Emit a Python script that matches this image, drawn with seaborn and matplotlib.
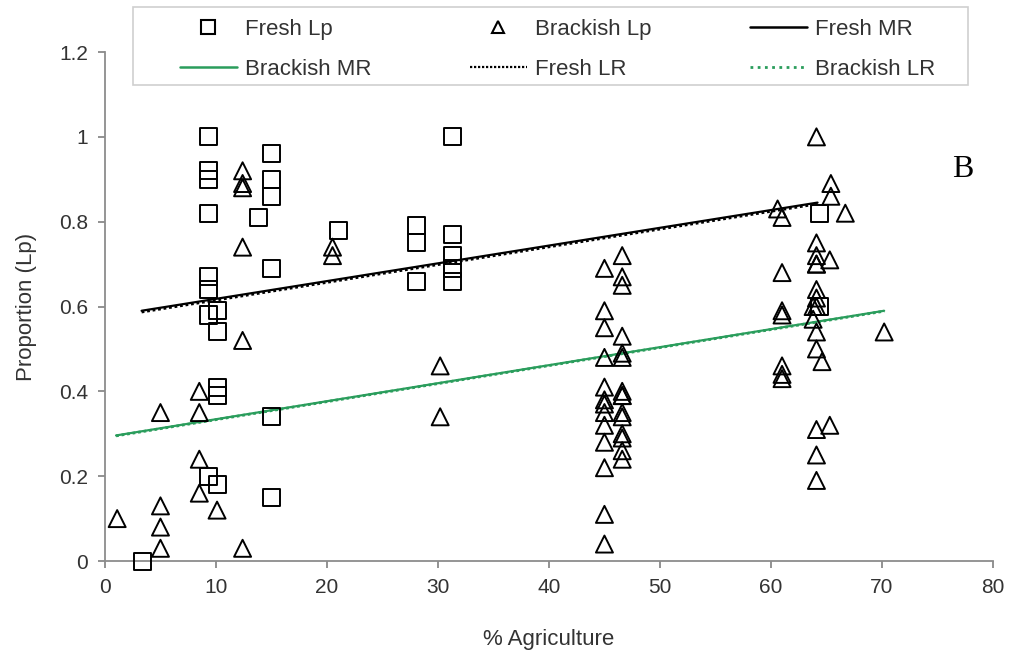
import matplotlib
matplotlib.use("Agg")
import matplotlib.pyplot as plt
import seaborn as sns
import pandas as pd
import numpy as np
from matplotlib.lines import Line2D
from matplotlib.patches import Rectangle

# ---- data ----
fresh_x = [9.3, 9.3, 9.3, 9.3, 15.0, 15.0, 15.0, 13.8, 15.0, 9.3, 9.3, 9.3, 10.1, 10.1,
           10.1, 10.1, 15.0, 9.3, 10.1, 15.0, 3.4,
           21.0, 28.1, 28.1, 28.1, 31.3, 31.3, 31.3, 31.3, 31.3, 64.4, 64.4]
fresh_y = [1.00, 0.92, 0.90, 0.82, 0.96, 0.90, 0.86, 0.81, 0.69, 0.67, 0.64, 0.58, 0.59, 0.54,
           0.41, 0.39, 0.34, 0.20, 0.18, 0.15, 0.00,
           0.78, 0.79, 0.75, 0.66, 1.00, 0.77, 0.72, 0.69, 0.66, 0.82, 0.60]

brack_x = [1.1, 5.0, 5.0, 5.0, 5.0, 8.5, 8.5, 8.5, 8.5, 10.1, 12.4, 12.4, 12.4, 12.4, 12.4, 12.4,
           20.5, 20.5, 30.2, 30.2,
           45.0, 45.0, 45.0, 45.0, 45.0, 45.0, 45.0, 45.0, 45.0, 45.0, 45.0, 45.0, 45.0,
           46.6, 46.6, 46.6, 46.6, 46.6, 46.6, 46.6, 46.6, 46.6, 46.6, 46.6, 46.6, 46.6, 46.6, 46.6,
           60.6, 61.0, 61.0, 61.0, 61.0, 61.0, 61.0, 61.0,
           64.1, 64.1, 64.1, 64.1, 64.1, 64.1, 64.1, 64.1, 64.1, 64.1, 64.1, 64.1, 64.1,
           63.8, 63.8, 64.6,
           65.4, 65.4, 65.3, 65.3, 66.7, 70.2]
brack_y = [0.10, 0.35, 0.13, 0.08, 0.03, 0.40, 0.35, 0.24, 0.16, 0.12, 0.92, 0.89, 0.88, 0.74, 0.52, 0.03,
           0.74, 0.72, 0.46, 0.34,
           0.69, 0.59, 0.55, 0.48, 0.41, 0.38, 0.37, 0.35, 0.32, 0.28, 0.22, 0.11, 0.04,
           0.72, 0.67, 0.65, 0.53, 0.49, 0.48, 0.40, 0.39, 0.39, 0.35, 0.34, 0.30, 0.29, 0.26, 0.24,
           0.83, 0.81, 0.68, 0.59, 0.58, 0.46, 0.44, 0.43,
           1.00, 0.75, 0.72, 0.70, 0.70, 0.64, 0.62, 0.60, 0.54, 0.50, 0.31, 0.25, 0.19,
           0.60, 0.57, 0.47,
           0.89, 0.86, 0.71, 0.32, 0.82, 0.54]

fresh_mr_x = [3.3, 64.2]
fresh_mr_y = [0.590, 0.845]
fresh_lr_x = [3.3, 64.2]
fresh_lr_y = [0.587, 0.842]
brack_mr_x = [1.0, 70.2]
brack_mr_y = [0.296, 0.590]
brack_lr_x = [1.0, 70.2]
brack_lr_y = [0.295, 0.589]

x_ticks = [0, 10, 20, 30, 40, 50, 60, 70, 80]
y_ticks = [0, 0.2, 0.4, 0.6, 0.8, 1.0, 1.2]
y_tick_labels = ["0", "0.2", "0.4", "0.6", "0.8", "1", "1.2"]

# ---- style ----
sns.set_theme(style="white")
plt.rcParams["font.family"] = ["Liberation Sans", "DejaVu Sans"]
GREEN = "#2a9d5c"
TXT = "#333333"

fig = plt.figure(figsize=(10.16, 6.56), dpi=100)
ax = fig.add_axes([0.1033, 0.1448, 0.8740, 0.7759])

fresh_df = pd.DataFrame({"x": fresh_x, "y": fresh_y})
brack_df = pd.DataFrame({"x": brack_x, "y": brack_y})

sns.scatterplot(data=fresh_df, x="x", y="y", marker="s", s=150, facecolor="none",
                edgecolor="black", linewidth=1.4, ax=ax, zorder=3, clip_on=False)
sns.scatterplot(data=brack_df, x="x", y="y", marker="^", s=150, facecolor="none",
                edgecolor="black", linewidth=1.4, ax=ax, zorder=4, clip_on=False)

sns.lineplot(x=fresh_mr_x, y=fresh_mr_y, color="black", linewidth=1.6, ax=ax, zorder=2)
sns.lineplot(x=fresh_lr_x, y=fresh_lr_y, color="black", linewidth=2.0, linestyle=(0, (1, 1)), ax=ax, zorder=2)
sns.lineplot(x=brack_mr_x, y=brack_mr_y, color=GREEN, linewidth=1.6, ax=ax, zorder=2)
sns.lineplot(x=brack_lr_x, y=brack_lr_y, color=GREEN, linewidth=2.0, linestyle=(0, (1, 1)), ax=ax, zorder=2)

ax.set_xlim(0, 80)
ax.set_ylim(0, 1.2)
ax.set_xticks(x_ticks)
ax.set_xticklabels([str(t) for t in x_ticks])
ax.set_yticks(y_ticks)
ax.set_yticklabels(y_tick_labels)
ax.tick_params(axis="both", labelsize=15, colors="#7f7f7f", labelcolor=TXT, length=5, width=1.2,
               direction="out", bottom=True, left=True)
ax.tick_params(axis="x", pad=7)
ax.tick_params(axis="y", pad=7)
for sp in ["top", "right"]:
    ax.spines[sp].set_visible(False)
for sp in ["left", "bottom"]:
    ax.spines[sp].set_color("#8c8c8c")
    ax.spines[sp].set_linewidth(1.3)
ax.set_xlabel("% Agriculture", fontsize=16, color=TXT, labelpad=23)
ax.set_ylabel("Proportion (Lp)", fontsize=16, color=TXT, labelpad=16)
ax.grid(False)

ax.text(0.966, 0.769, "B", transform=ax.transAxes, fontsize=23, family="Liberation Serif",
        ha="center", va="center", color="black")

# legend frame drawn separately
fig.patches.append(Rectangle((133 / 1016, 1 - 85 / 656), 835 / 1016, 78 / 656,
                             transform=fig.transFigure, facecolor="white",
                             edgecolor="#cfcfcf", linewidth=1.2, zorder=5))

handles = [
    Line2D([], [], marker="s", linestyle="none", markerfacecolor="none", markeredgecolor="black",
           markersize=9.5, markeredgewidth=1.5),
    Line2D([], [], color=GREEN, linewidth=1.8),
    Line2D([], [], marker="^", linestyle="none", markerfacecolor="none", markeredgecolor="black",
           markersize=9, markeredgewidth=1.5),
    Line2D([], [], color="black", linewidth=1.6, linestyle=(0, (1, 0.8))),
    Line2D([], [], color="black", linewidth=1.8),
    Line2D([], [], color=GREEN, linewidth=2.0, linestyle=(0, (1, 1.6))),
]
labels = ["Fresh Lp", "Brackish MR", "Brackish Lp", "Fresh LR", "Fresh MR", "Brackish LR"]
leg = fig.legend(handles, labels, ncol=3, loc="upper left", bbox_to_anchor=(180 / 1016, 1 - 19 / 656),
                 fontsize=16, frameon=False, handlelength=2.55, columnspacing=4.45,
                 handletextpad=0.36, borderpad=0.0, borderaxespad=0.0, labelspacing=0.85)
leg.set_zorder(6)
for t in leg.get_texts():
    t.set_color(TXT)

fig.savefig("out.png", dpi=100)
